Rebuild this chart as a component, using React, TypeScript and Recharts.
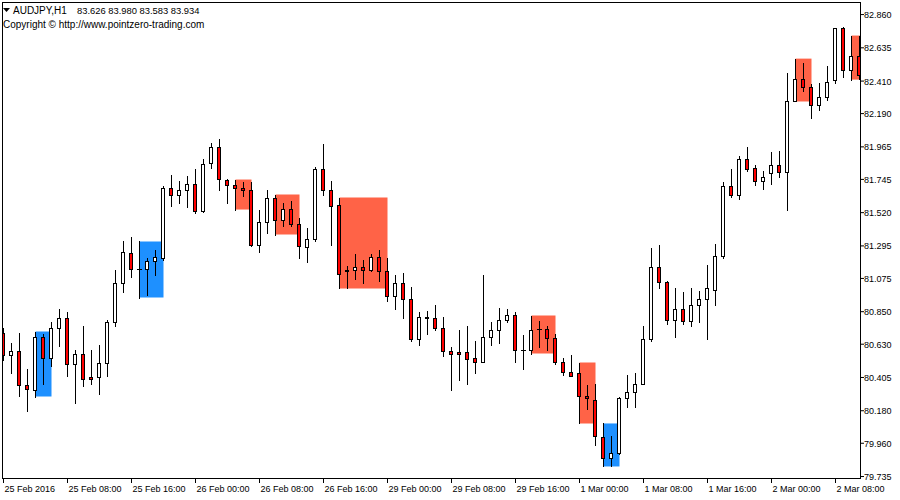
import { ComposedChart, Bar, XAxis, YAxis, ReferenceArea } from "recharts";

// H1 candles, 25 Feb 2016 00:00 .. 2 Mar 2016 11:00
const opens = [
  80.709, 80.56, 80.587, 80.351, 80.317, 80.682, 80.54, 80.743, 80.81, 80.493,
  80.567, 80.405, 80.405, 80.506, 80.777, 81.047, 81.25, 81.142, 81.142, 81.196,
  81.216, 81.69, 81.642, 81.676, 81.717, 81.528, 81.859, 81.967, 81.744, 81.71,
  81.69, 81.67, 81.304, 81.46, 81.622, 81.473, 81.548, 81.446, 81.291, 81.345,
  81.812, 81.67, 81.575, 81.122, 81.135, 81.149, 81.135, 81.223, 81.122, 80.953,
  81.041, 80.939, 80.662, 80.817, 80.804, 80.743, 80.581, 80.574, 80.574, 80.54,
  80.513, 80.682, 80.729, 80.797, 80.831, 80.594, 80.594, 80.736, 80.736, 80.675,
  80.513, 80.445, 80.432, 80.283, 80.256, 79.999, 79.857, 79.891, 80.263, 80.31,
  80.364, 80.662, 81.155, 81.054, 80.797, 80.871, 80.79, 80.898, 80.939, 81.0,
  81.23, 81.703, 81.642, 81.886, 81.825, 81.737, 81.791, 81.845, 81.798, 82.278,
  82.427, 82.373, 82.245, 82.305, 82.414, 82.772, 82.488, 82.583,
];
const highs = [
  80.743, 80.635, 80.709, 80.459, 80.716, 80.696, 80.783, 80.865, 80.851, 80.594,
  80.756, 80.594, 80.628, 80.797, 81.135, 81.331, 81.358, 81.325, 81.21, 81.27,
  81.697, 81.778, 81.737, 81.771, 81.812, 81.886, 81.994, 82.015, 81.751, 81.744,
  81.724, 81.724, 81.541, 81.67, 81.642, 81.582, 81.602, 81.487, 81.419, 81.832,
  81.987, 81.737, 81.622, 81.162, 81.243, 81.203, 81.237, 81.27, 81.21, 81.095,
  81.115, 81.02, 80.851, 80.858, 80.898, 80.817, 80.614, 80.723, 80.756, 80.655,
  81.101, 80.777, 80.878, 80.871, 80.851, 80.689, 80.824, 80.79, 80.75, 80.696,
  80.54, 80.56, 80.506, 80.351, 80.364, 80.094, 80.006, 80.276, 80.425, 80.432,
  80.75, 81.284, 81.304, 81.06, 81.013, 80.986, 81.013, 80.993, 81.169, 81.311,
  81.73, 81.812, 81.906, 81.967, 81.845, 81.805, 81.927, 81.94, 82.468, 82.562,
  82.529, 82.393, 82.4, 82.515, 82.772, 82.775, 82.718, 82.718,
];
const lows = [
  80.52, 80.438, 80.283, 80.181, 80.276, 80.364, 80.486, 80.621, 80.418, 80.229,
  80.344, 80.364, 80.296, 80.418, 80.756, 80.986, 81.088, 80.946, 80.966, 81.101,
  81.203, 81.568, 81.588, 81.555, 81.52, 81.525, 81.825, 81.676, 81.588, 81.541,
  81.636, 81.297, 81.257, 81.385, 81.372, 81.433, 81.433, 81.216, 81.189, 81.331,
  81.642, 81.304, 81.007, 81.007, 81.068, 81.047, 81.122, 81.061, 80.925, 80.871,
  80.81, 80.655, 80.628, 80.702, 80.723, 80.553, 80.317, 80.391, 80.364, 80.438,
  80.51, 80.628, 80.635, 80.777, 80.513, 80.459, 80.567, 80.614, 80.594, 80.493,
  80.425, 80.415, 80.094, 80.195, 79.945, 79.803, 79.803, 79.884, 80.202, 80.202,
  80.36, 80.655, 81.013, 80.77, 80.682, 80.77, 80.75, 80.783, 80.662, 80.898,
  81.216, 81.629, 81.615, 81.805, 81.71, 81.683, 81.717, 81.764, 81.541, 82.272,
  82.346, 82.163, 82.217, 82.285, 82.4, 82.441, 82.42, 82.427,
];
const closes = [
  80.56, 80.587, 80.351, 80.324, 80.682, 80.54, 80.743, 80.81, 80.493, 80.567,
  80.398, 80.398, 80.506, 80.777, 81.047, 81.257, 81.142, 81.142, 81.196, 81.223,
  81.69, 81.642, 81.67, 81.717, 81.528, 81.852, 81.967, 81.751, 81.71, 81.69,
  81.67, 81.304, 81.46, 81.622, 81.473, 81.548, 81.446, 81.297, 81.345, 81.812,
  81.67, 81.568, 81.108, 81.135, 81.149, 81.135, 81.223, 81.122, 80.953, 81.041,
  80.939, 80.662, 80.817, 80.804, 80.743, 80.581, 80.567, 80.567, 80.533, 80.513,
  80.682, 80.729, 80.797, 80.831, 80.594, 80.594, 80.729, 80.736, 80.675, 80.513,
  80.445, 80.418, 80.283, 80.263, 80.006, 79.857, 79.891, 80.263, 80.31, 80.364,
  80.662, 81.149, 81.054, 80.797, 80.871, 80.79, 80.898, 80.939, 81.007, 81.23,
  81.703, 81.642, 81.886, 81.812, 81.737, 81.758, 81.845, 81.798, 82.278, 82.427,
  82.373, 82.245, 82.305, 82.407, 82.772, 82.488, 82.583, 82.454,
];

const timeLabels = [
  "25 Feb 2016", "25 Feb 08:00", "25 Feb 16:00", "26 Feb 00:00", "26 Feb 08:00",
  "26 Feb 16:00", "29 Feb 00:00", "29 Feb 08:00", "29 Feb 16:00", "1 Mar 00:00",
  "1 Mar 08:00", "1 Mar 16:00", "2 Mar 00:00", "2 Mar 08:00",
];
const priceLabels = [
  "82.860", "82.635", "82.410", "82.190", "81.965", "81.745", "81.520", "81.295",
  "81.075", "80.850", "80.630", "80.405", "80.180", "79.960", "79.735",
];

// inside-bar boxes: [mother bar, last bar]
const blueBoxes = [[4, 6], [17, 20], [75, 77]];
const redBoxes = [[29, 31], [34, 37], [42, 48], [66, 69], [72, 74], [99, 101], [106, 108]];

const X_MIN = -0.1875;
const X_MAX = 107.0625;
const Y_MIN = 79.725;
const Y_MAX = 82.945;
const FONT = "'Liberation Sans', Arial, sans-serif";

const candles = opens.map((open, i) => ({
  i,
  open,
  high: highs[i],
  low: lows[i],
  close: closes[i],
  range: [lows[i], highs[i]],
}));

function Candle(props: any) {
  const { x, y, width, height, payload } = props;
  if (!payload) return null;
  // snap to pixel centres so the 1px outlines stay crisp
  const cx = Math.round(x + width / 2 - 0.5) + 0.5;
  const k = height / (payload.high - payload.low);
  const py = (v: number) => y + (payload.high - v) * k;
  const yo = Math.round(py(payload.open)) + 0.5;
  const yc = Math.round(py(payload.close)) + 0.5;
  const top = Math.min(yo, yc);
  const h = Math.abs(yo - yc);
  const up = payload.close >= payload.open;
  return (
    <g shapeRendering="crispEdges">
      <line x1={cx} x2={cx} y1={Math.round(y)} y2={Math.round(y + height) + 1} stroke="#000" strokeWidth={1} />
      {h < 1 ? (
        <line x1={cx - 2.5} x2={cx + 2.5} y1={yo} y2={yo} stroke="#000" strokeWidth={1} />
      ) : (
        <rect x={cx - 2} y={top} width={3} height={h} fill={up ? "#ffffff" : "#ff0000"} stroke="#000" strokeWidth={1} />
      )}
    </g>
  );
}

function TimeTick(props: any) {
  const { x, y, payload } = props;
  return (
    <text x={x + 1} y={y + 7} fontSize={9} fontFamily={FONT} fill="#000" textAnchor="start">
      {timeLabels[Math.round(payload.value / 8)]}
    </text>
  );
}

function PriceTick(props: any) {
  const { x, y, index } = props;
  return (
    <text x={x} y={y + 3.5} fontSize={9} fontFamily={FONT} fill="#000" textAnchor="start">
      {priceLabels[index]}
    </text>
  );
}

export default function App() {
  return (
    <div style={{ position: "absolute", left: 0, top: 0, width: 900, height: 500, background: "#fff" }}>
      <ComposedChart width={900} height={500} data={candles} margin={{ top: 2, right: 0, bottom: 0, left: 2 }}>
        <XAxis
          dataKey="i"
          type="number"
          domain={[X_MIN, X_MAX]}
          allowDataOverflow
          ticks={timeLabels.map((_, k) => k * 8)}
          tick={<TimeTick />}
          tickLine={{ stroke: "#000" }}
          tickSize={5}
          axisLine={false}
          height={22}
          interval={0}
        />
        <YAxis
          orientation="right"
          type="number"
          domain={[Y_MIN, Y_MAX]}
          allowDataOverflow
          ticks={priceLabels.map(Number)}
          tick={<PriceTick />}
          tickLine={{ stroke: "#000" }}
          tickSize={4}
          tickMargin={0}
          axisLine={false}
          width={40}
          interval={0}
        />
        {blueBoxes.map(([s, e]) => (
          <ReferenceArea
            key={"b" + s}
            x1={s}
            x2={Math.min(e, X_MAX)}
            y1={lows[s]}
            y2={highs[s]}
            fill="#1e90ff"
            fillOpacity={1}
            stroke="none"
          />
        ))}
        {redBoxes.map(([s, e]) => (
          <ReferenceArea
            key={"r" + s}
            x1={s}
            x2={Math.min(e, X_MAX)}
            y1={lows[s]}
            y2={highs[s]}
            fill="#ff6347"
            fillOpacity={1}
            stroke="none"
          />
        ))}
        <Bar dataKey="range" barSize={6} shape={<Candle />} isAnimationActive={false} />
      </ComposedChart>
      <svg width={900} height={500} style={{ position: "absolute", left: 0, top: 0, pointerEvents: "none" }}>
        <rect x={2.5} y={2.5} width={858} height={476} fill="none" stroke="#000" strokeWidth={1} shapeRendering="crispEdges" />
        <polygon points="3,8 10,8 6.5,12" fill="#000" />
        <text x={13} y={14} fontSize={10} fontFamily={FONT} fill="#000">AUDJPY,H1</text>
        <text x={77} y={14} fontSize={9.4} fontFamily={FONT} fill="#000">
          83.626 83.980 83.583 83.934
        </text>
        <text x={3} y={27.5} fontSize={10} fontFamily={FONT} fill="#000">
          Copyright © http://www.pointzero-trading.com
        </text>
      </svg>
    </div>
  );
}
